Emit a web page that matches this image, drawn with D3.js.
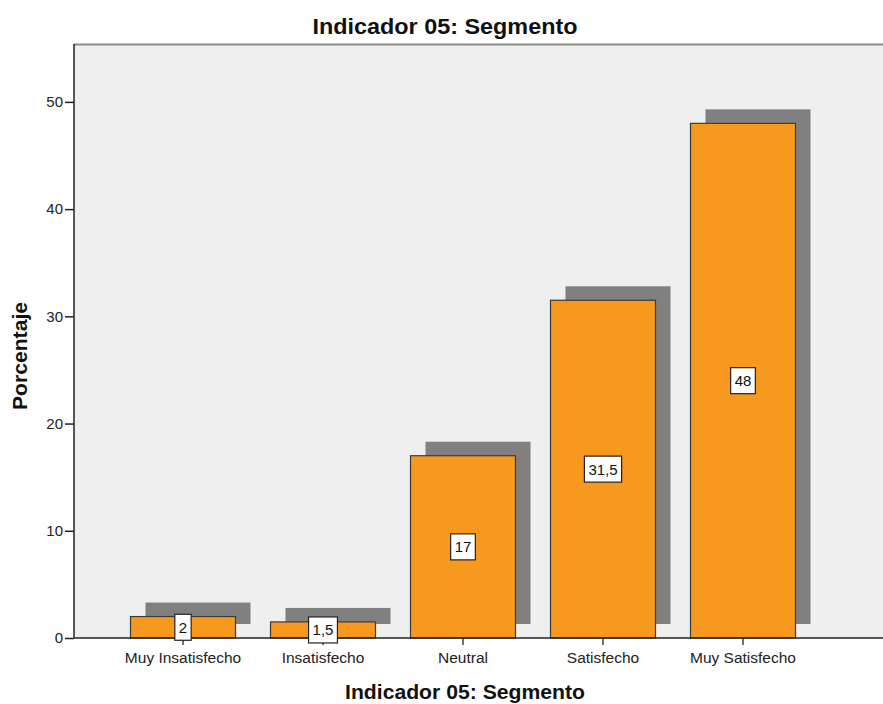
<!DOCTYPE html>
<html><head><meta charset="utf-8">
<script src="https://cdn.jsdelivr.net/npm/d3@7"></script>
<style>body{margin:0;background:#fff;}svg{display:block;font-family:"Liberation Sans",Arial,sans-serif;}</style>
</head><body>
<svg id="c" width="883" height="704"></svg>
<script>
const categories = ["Muy Insatisfecho","Insatisfecho","Neutral","Satisfecho","Muy Satisfecho"];
const values = [2, 1.5, 17, 31.5, 48];
const valueLabels = ["2","1,5","17","31,5","48"];
const yTicks = [0,10,20,30,40,50];
const title = "Indicador 05: Segmento";
const xTitle = "Indicador 05: Segmento";
const yTitle = "Porcentaje";

(function(){
const svg = d3.select("#c");
const pL = 74, pT = 44, pR = 884, pB = 638;
const x = d3.scaleBand().domain(categories).range([113, 813]).paddingInner(0.25).paddingOuter(0.125);
const y = d3.scaleLinear().domain([0, 55.4]).range([pB, pT]);

svg.append("rect").attr("x", pL).attr("y", pT).attr("width", pR-pL).attr("height", pB-pT).attr("fill", "#efefef");
svg.append("line").attr("x1", pL).attr("x2", pR).attr("y1", pT+0.5).attr("y2", pT+0.5).attr("stroke", "#8a8a8a").attr("stroke-width", 1.8);

const defs = svg.append("defs");
defs.append("filter").attr("id","blur").append("feGaussianBlur").attr("stdDeviation",0.6);

// shadows
svg.append("g").selectAll("rect").data(values).join("rect")
  .attr("x", (d,i)=>x(categories[i]) + 15)
  .attr("y", d=>y(d) - 14)
  .attr("width", x.bandwidth())
  .attr("height", d=>pB - y(d))
  .attr("fill", "#808080").attr("filter","url(#blur)");

// bars
svg.append("g").selectAll("rect").data(values).join("rect")
  .attr("x", (d,i)=>x(categories[i]))
  .attr("y", d=>y(d))
  .attr("width", x.bandwidth())
  .attr("height", d=>pB - y(d))
  .attr("fill", "#f7991f").attr("stroke", "#3a3a3a").attr("stroke-width", 1.2);

// axes
const ya = svg.append("g").attr("transform", `translate(${pL},0)`)
  .call(d3.axisLeft(y).tickValues(yTicks).tickSize(9).tickFormat(d3.format("d")));
ya.select(".domain").attr("stroke","#222").attr("stroke-width",1.5).attr("d", `M0,${pT}V${pB}`);
ya.selectAll(".tick line").attr("stroke","#222").attr("stroke-width",1.5);
ya.selectAll(".tick text").attr("font-size", 15).attr("fill","#222").attr("x",-11);

const xa = svg.append("g").attr("transform", `translate(0,${pB})`)
  .call(d3.axisBottom(x).tickSize(7).tickSizeOuter(0));
xa.select(".domain").attr("stroke","#222").attr("stroke-width",1.5).attr("d", `M${pL},0H${pR}`);
xa.selectAll(".tick line").attr("stroke","#222").attr("stroke-width",1.3);
xa.selectAll(".tick text").attr("font-size", 15.5).attr("fill","#222").attr("dy",null).attr("y",25);

// value labels
const lab = svg.append("g").selectAll("g").data(values).join("g")
  .attr("transform", (d,i)=>`translate(${x(categories[i]) + x.bandwidth()/2},${y(d/2)})`);
lab.append("text").text((d,i)=>valueLabels[i]).attr("text-anchor","middle").attr("dy","0.36em")
  .attr("font-size", 15).attr("fill","#111");
lab.each(function(){
  const g = d3.select(this);
  const bb = g.select("text").node().getBBox();
  g.insert("rect","text").attr("x", bb.x-4).attr("y", -13).attr("width", bb.width+8).attr("height", 26)
    .attr("fill","#fff").attr("stroke","#222").attr("stroke-width",1.2);
});

svg.append("text").attr("x", 445).attr("y", 34).attr("text-anchor","middle").attr("font-size", 22).attr("font-weight","bold")
  .attr("fill","#111").attr("textLength", 265).attr("lengthAdjust","spacingAndGlyphs").text(title);
svg.append("text").attr("x", 465).attr("y", 699).attr("text-anchor","middle").attr("font-size", 20).attr("font-weight","bold")
  .attr("fill","#111").attr("textLength", 240).attr("lengthAdjust","spacingAndGlyphs").text(xTitle);
svg.append("text").attr("transform","translate(27,356) rotate(-90)").attr("text-anchor","middle").attr("font-size", 19.5).attr("font-weight","bold")
  .attr("fill","#111").attr("textLength", 108).attr("lengthAdjust","spacingAndGlyphs").text(yTitle);
})();
</script>
</body></html>
